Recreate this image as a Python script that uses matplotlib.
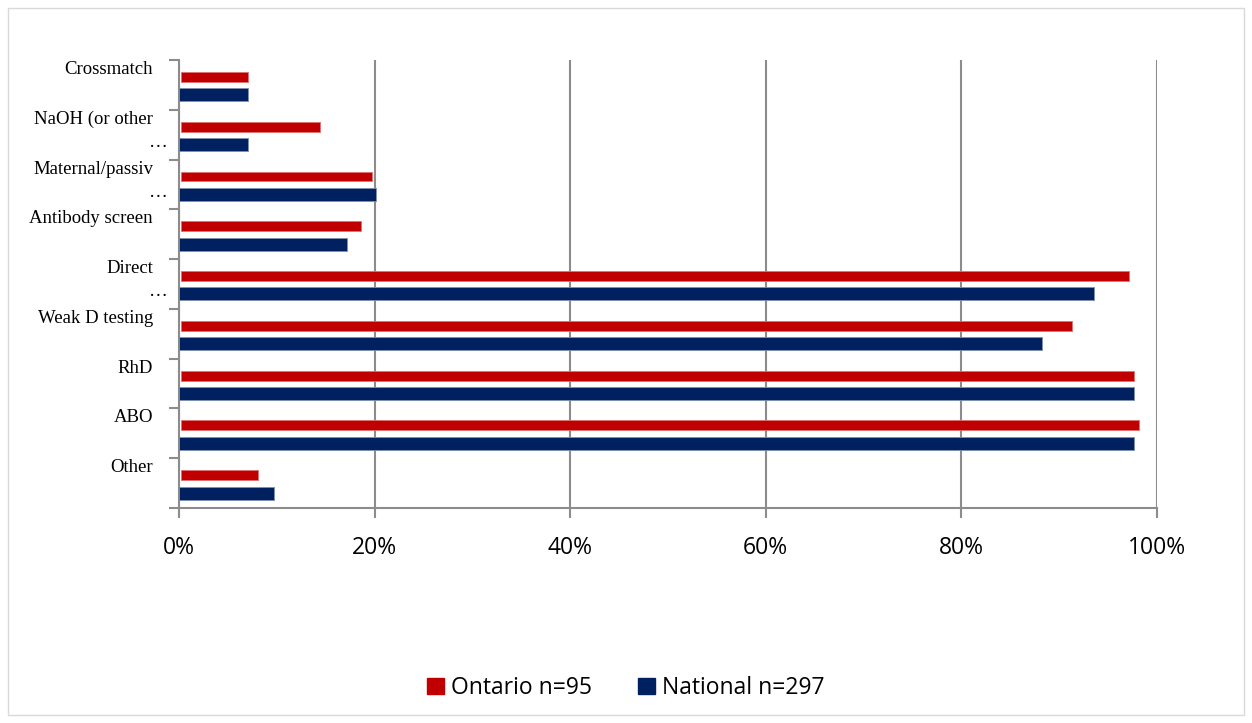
import numpy as np
import matplotlib.pyplot as plt
from matplotlib.patches import Rectangle
from matplotlib.transforms import blended_transform_factory

# categories from top to bottom
categories = ["Crossmatch", "NaOH (or other\n…", "Maternal/passiv\n…", "Antibody screen",
              "Direct\n…", "Weak D testing", "RhD", "ABO", "Other"]
ontario = [7.1, 14.4, 19.7, 18.6, 97.1, 91.3, 97.6, 98.2, 8.1]
national = [7.1, 7.1, 20.1, 17.2, 93.6, 88.2, 97.6, 97.6, 9.7]
ticks = [0, 20, 40, 60, 80, 100]

RED = "#C00000"
NAVY = "#002060"
GRID = "#8c8c8c"

fig = plt.figure(figsize=(12.52, 7.23), dpi=100)
ax = fig.add_axes([179/1252, 1 - 508/723, (1157-179)/1252, (508-60)/723])

n = len(categories)
y = np.arange(n)
ax.barh(y + 0.34, np.array(ontario) - 0.2, left=0.2, height=0.2, color=RED,
        edgecolor="#e07070", linewidth=0.6, zorder=3)
ax.barh(y + 0.70, national, height=0.26, color=NAVY,
        edgecolor="#8090b0", linewidth=0.6, zorder=3)

ax.set_xlim(0, 100)
ax.set_ylim(n, 0)
ax.set_xticks(ticks)
ax.set_xticklabels([f"{t}%" for t in ticks], fontsize=16.5, family="Open Sans")
ax.tick_params(axis="x", length=7, width=1.5, color=GRID, pad=13, direction="out")
ax.set_yticks(np.arange(n + 1))
ax.set_yticklabels([])
ax.tick_params(axis="y", length=7, width=1.5, color=GRID, direction="out")
ax.grid(axis="x", color=GRID, linewidth=1.5, zorder=0)
for s in ["top", "right"]:
    ax.spines[s].set_visible(False)
for s in ["left", "bottom"]:
    ax.spines[s].set_color(GRID)
    ax.spines[s].set_linewidth(1.5)

# category labels sit at the top of each band, wrapped like the original
tr = blended_transform_factory(fig.transFigure, ax.transData)
for i, lab in enumerate(categories):
    lines = lab.split("\n")
    ax.text(153/1252, i + 0.19, lines[0], transform=tr, ha="right", va="center",
            fontsize=13.5, family="Liberation Serif")
    if len(lines) > 1:
        ax.text(168/1252, i + 0.66, lines[1], transform=tr, ha="right", va="center",
                fontsize=13.5, family="Liberation Serif")

handles = [Rectangle((0, 0), 1, 1, color=RED), Rectangle((0, 0), 1, 1, color=NAVY)]
fig.legend(handles, ["Ontario n=95", "National n=297"], loc="center",
           bbox_to_anchor=(0.5, 1 - 688/723), ncol=2, frameon=False,
           prop={"family": "Open Sans", "size": 16.5}, handlelength=0.75,
           handleheight=0.75, handletextpad=0.3, columnspacing=2.0)

fig.patches.append(Rectangle((8/1252, 8/723), 1236/1252, 707/723, transform=fig.transFigure,
                             fill=False, edgecolor="#d9d9d9", linewidth=1))

fig.savefig("out.png", dpi=100)
